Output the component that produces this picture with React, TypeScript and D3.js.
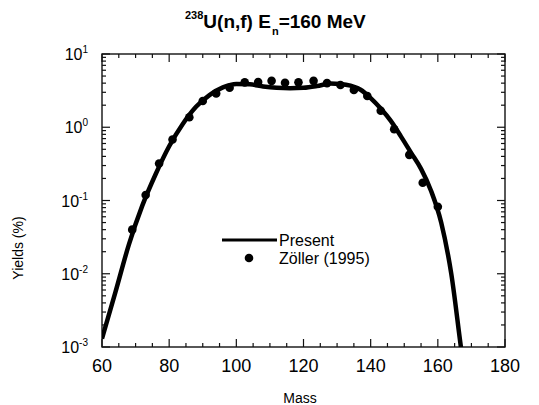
import React, { useRef, useEffect } from "react";
import * as d3 from "d3";

// calculated curve ("Present")
const curveMass = [60, 64, 68, 72, 76, 80, 84, 88, 92, 96, 100, 104, 108, 112, 116, 120, 124, 128, 131, 134, 137, 140, 143, 146, 149, 152, 155, 158, 161, 164, 167, 169];
const curveYield = [0.0013, 0.0056, 0.025, 0.085, 0.23, 0.55, 1.1, 1.9, 2.75, 3.5, 3.9, 3.85, 3.6, 3.45, 3.4, 3.45, 3.65, 3.95, 3.9, 3.7, 3.25, 2.5, 1.8, 1.22, 0.75, 0.45, 0.27, 0.135, 0.05, 0.01, 0.0009, 0.0002];

// Zöller (1995) data points
const zollerMass = [69, 73, 77, 81, 86, 90, 94, 98, 102.5, 106.5, 110.5, 114.5, 118.5, 123, 127, 131, 135, 139, 143, 147, 151.5, 155.5, 160];
const zollerYield = [0.04, 0.119, 0.32, 0.68, 1.37, 2.28, 2.9, 3.47, 4.1, 4.15, 4.3, 4.05, 4.1, 4.3, 4.0, 3.77, 3.23, 2.67, 1.68, 0.94, 0.42, 0.175, 0.082];

const xTicks = [60, 80, 100, 120, 140, 160, 180];
const yDecades = [-3, -2, -1, 0, 1];

const W = 539;
const H = 405;
const FONT = "'Liberation Sans', Arial, Helvetica, sans-serif";

function YieldChart() {
  const svgRef = useRef<SVGSVGElement>(null);

  useEffect(() => {
    const svg = d3.select(svgRef.current);
    svg.selectAll("*").remove();

    const x = d3.scaleLinear().domain([60, 180]).range([102, 505]);
    const y = d3.scaleLog().domain([1e-3, 10]).range([347, 54]);
    const [x0, x1] = x.range();
    const [y0, y1] = y.range();

    svg.append("defs").append("clipPath").attr("id", "plot")
      .append("rect").attr("x", x0).attr("y", y1).attr("width", x1 - x0).attr("height", y0 - y1);

    // frame
    svg.append("rect")
      .attr("x", x0).attr("y", y1).attr("width", x1 - x0).attr("height", y0 - y1)
      .attr("fill", "none").attr("stroke", "#111").attr("stroke-width", 1.4);

    const ticks = svg.append("g").attr("stroke", "#111").attr("stroke-width", 1.2);

    // x ticks, inside, bottom and top
    const xMinor = d3.range(60, 181, 5).filter(v => v % 20 !== 0);
    xTicks.forEach(v => {
      ticks.append("line").attr("x1", x(v)).attr("x2", x(v)).attr("y1", y0).attr("y2", y0 - 8);
      ticks.append("line").attr("x1", x(v)).attr("x2", x(v)).attr("y1", y1).attr("y2", y1 + 8);
    });
    xMinor.forEach(v => {
      ticks.append("line").attr("x1", x(v)).attr("x2", x(v)).attr("y1", y0).attr("y2", y0 - 4);
      ticks.append("line").attr("x1", x(v)).attr("x2", x(v)).attr("y1", y1).attr("y2", y1 + 4);
    });

    // y ticks, log
    yDecades.forEach(d => {
      const yy = y(Math.pow(10, d));
      ticks.append("line").attr("x1", x0).attr("x2", x0 + 8).attr("y1", yy).attr("y2", yy);
      ticks.append("line").attr("x1", x1).attr("x2", x1 - 8).attr("y1", yy).attr("y2", yy);
      if (d < 1) {
        for (let k = 2; k <= 9; k++) {
          const ym = y(k * Math.pow(10, d));
          ticks.append("line").attr("x1", x0).attr("x2", x0 + 4).attr("y1", ym).attr("y2", ym);
          ticks.append("line").attr("x1", x1).attr("x2", x1 - 4).attr("y1", ym).attr("y2", ym);
        }
      }
    });

    // x tick labels
    svg.append("g").selectAll("text").data(xTicks).enter().append("text")
      .attr("x", d => x(d)).attr("y", 372)
      .attr("text-anchor", "middle")
      .style("font-family", FONT).style("font-size", "18px")
      .text(d => d);

    // y tick labels 10^n
    const yl = svg.append("g").selectAll("text").data(yDecades).enter().append("text")
      .attr("x", 88).attr("y", d => y(Math.pow(10, d)) + 6)
      .attr("text-anchor", "end")
      .style("font-family", FONT).style("font-size", "16px");
    yl.append("tspan").text("10");
    yl.append("tspan").attr("dy", -7).style("font-size", "10px").text(d => String(d));

    // axis titles
    svg.append("text").attr("x", 300).attr("y", 403).attr("text-anchor", "middle")
      .style("font-family", FONT).style("font-size", "14px").text("Mass");
    svg.append("text").attr("transform", "translate(23,248) rotate(-90)").attr("text-anchor", "middle")
      .style("font-family", FONT).style("font-size", "14px").text("Yields (%)");

    // title
    const title = svg.append("text").attr("x", 185).attr("y", 28)
      .style("font-family", FONT).style("font-size", "19px").style("font-weight", "bold");
    title.append("tspan").attr("dy", -9).style("font-size", "11px").text("238");
    title.append("tspan").attr("dy", 9).text("U(n,f) E");
    title.append("tspan").attr("dy", 7).attr("dx", 1).style("font-size", "11px").text("n");
    title.append("tspan").attr("dy", -7).text("=160 MeV");

    // curve
    const pts = curveMass.map((m, i) => [m, curveYield[i]] as [number, number]);
    const line = d3.line<[number, number]>()
      .x(d => x(d[0])).y(d => y(d[1]))
      .curve(d3.curveMonotoneX);
    svg.append("path").datum(pts)
      .attr("clip-path", "url(#plot)")
      .attr("d", line)
      .attr("fill", "none").attr("stroke", "#000").attr("stroke-width", 4.5)
      .attr("stroke-linejoin", "round");

    // data points
    svg.append("g").selectAll("circle").data(zollerMass).enter().append("circle")
      .attr("cx", d => x(d)).attr("cy", (d, i) => y(zollerYield[i]))
      .attr("r", 4.3).attr("fill", "#000");

    // legend
    const lg = svg.append("g");
    lg.append("line").attr("x1", 222).attr("x2", 277).attr("y1", 240).attr("y2", 240)
      .attr("stroke", "#000").attr("stroke-width", 3);
    lg.append("circle").attr("cx", 249).attr("cy", 258).attr("r", 4.3).attr("fill", "#000");
    lg.append("text").attr("x", 279).attr("y", 246)
      .style("font-family", FONT).style("font-size", "16px").text("Present");
    lg.append("text").attr("x", 279).attr("y", 264)
      .style("font-family", FONT).style("font-size", "16px").text("Zöller (1995)");
  }, []);

  return (
    <svg ref={svgRef} width={W} height={H}
      style={{ position: "absolute", left: 0, top: 0, background: "#fff" }} />
  );
}

export default function App() {
  return <YieldChart />;
}
